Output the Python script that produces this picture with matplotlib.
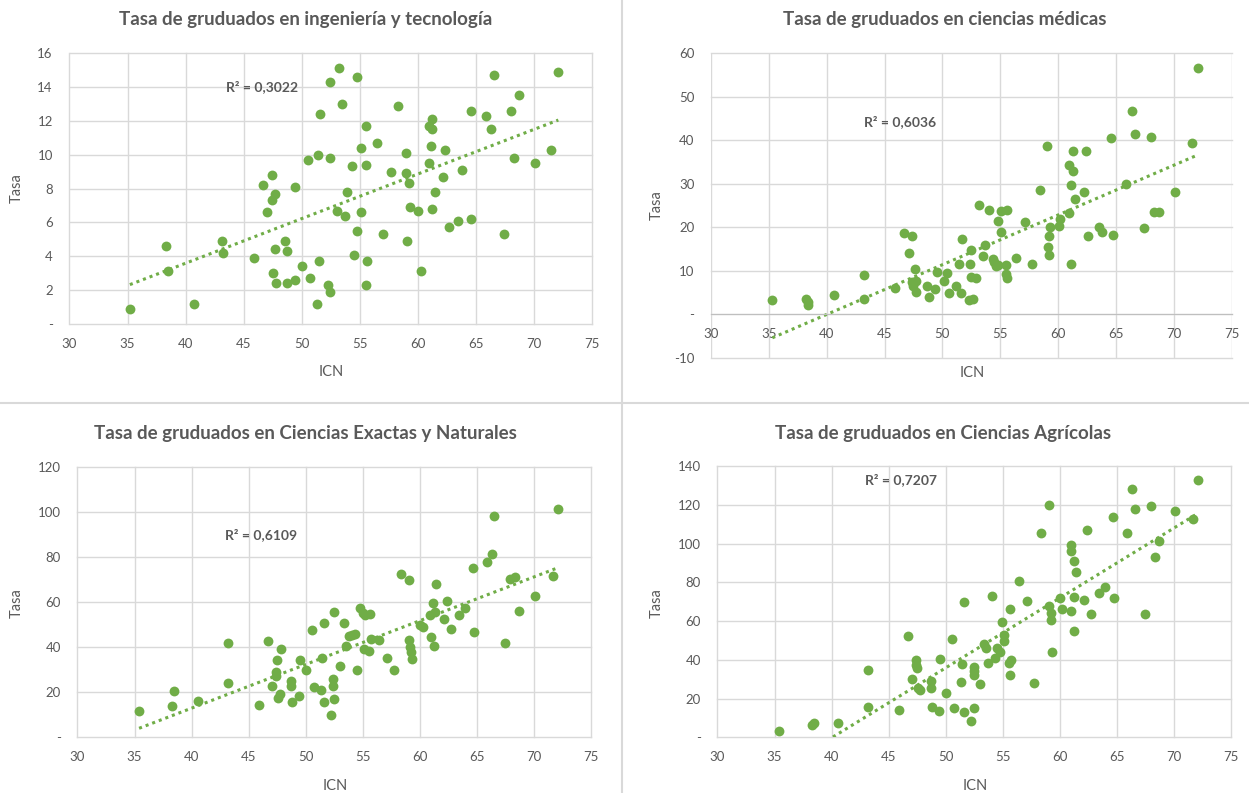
# Tasas de graduados frente al ICN: cuatro diagramas de dispersión con tendencia lineal

import numpy as np
import matplotlib.pyplot as plt
from matplotlib.lines import Line2D
from matplotlib.ticker import FuncFormatter

plt.rcParams['font.family'] = ['Lato', 'DejaVu Sans']

# 0. Datos
icn_ing = [35.2, 38.3, 38.5, 40.7, 43.1, 43.2, 45.9, 46.7, 47.0, 47.4,
           47.4, 47.7, 47.7, 47.5, 47.8, 48.6, 48.7, 48.7, 49.4, 49.4,
           50.0, 50.5, 50.7, 51.4, 51.3, 51.5, 51.6, 52.4, 52.4, 52.3,
           52.4, 53.0, 53.2, 53.5, 53.7, 53.9, 54.3, 54.5, 54.8, 54.8,
           55.1, 55.1, 55.5, 55.5, 55.6, 55.5, 56.5, 57.0, 57.7, 58.3,
           59.0, 59.0, 59.2, 59.3, 59.1, 60.0, 60.3, 61.0, 61.2, 61.2,
           61.1, 61.0, 61.2, 61.5, 62.2, 62.3, 62.7, 63.5, 63.8, 64.6,
           64.6, 65.9, 66.3, 66.6, 67.4, 68.0, 68.7, 68.3, 70.1, 71.5,
           72.1]
tasa_ing = [0.9, 4.6, 3.1, 1.2, 4.9, 4.2, 3.9, 8.2, 6.6, 8.8,
            7.3, 7.7, 4.4, 3.0, 2.4, 4.9, 4.3, 2.4, 8.1, 2.6,
            3.4, 9.7, 2.7, 10.0, 1.2, 3.7, 12.4, 14.3, 9.8, 2.3,
            1.9, 6.7, 15.1, 13.0, 6.4, 7.8, 9.3, 4.1, 14.6, 5.5,
            10.4, 6.6, 11.7, 9.4, 3.7, 2.3, 10.7, 5.3, 9.0, 12.9,
            10.1, 8.9, 8.3, 6.9, 4.9, 6.7, 3.1, 11.7, 12.1, 11.5,
            10.5, 9.5, 6.8, 7.8, 8.7, 10.3, 5.7, 6.1, 9.1, 12.6,
            6.2, 12.3, 11.5, 14.7, 5.3, 12.6, 13.5, 9.8, 9.5, 10.3,
            14.9]

icn_med = [35.3, 38.2, 38.4, 38.4, 40.6, 43.2, 43.2, 45.9, 46.7, 47.4,
           47.1, 47.6, 47.4, 47.7, 47.5, 47.7, 48.7, 48.8, 49.4, 49.5,
           50.1, 50.4, 50.6, 51.2, 51.4, 51.6, 51.7, 52.4, 52.5, 52.5,
           52.9, 52.3, 52.6, 53.2, 53.5, 53.7, 54.0, 54.4, 54.5, 54.6,
           54.8, 55.1, 55.1, 55.6, 54.8, 55.5, 55.5, 55.6, 56.4, 57.1,
           57.7, 58.4, 59.0, 59.1, 59.2, 59.2, 59.3, 60.1, 60.2, 60.9,
           60.9, 61.3, 61.3, 61.1, 61.5, 61.1, 62.2, 62.4, 62.6, 63.5,
           63.8, 64.6, 64.7, 65.9, 66.4, 66.6, 67.4, 68.0, 68.3, 68.7,
           70.1, 71.6, 72.1]
tasa_med = [3.2, 3.4, 2.8, 2.2, 4.5, 9.1, 3.5, 6.0, 18.7, 18.0,
            14.0, 10.4, 7.4, 7.7, 6.5, 5.1, 6.5, 3.9, 5.7, 9.7,
            7.6, 9.4, 4.8, 6.5, 11.5, 4.9, 17.2, 11.6, 14.7, 8.6,
            8.3, 3.3, 3.5, 25.2, 13.4, 15.9, 23.9, 12.7, 11.9, 11.0,
            21.4, 19.0, 23.7, 23.9, 11.4, 11.4, 9.3, 8.3, 12.9, 21.2,
            11.6, 28.6, 38.7, 15.4, 18.0, 13.7, 20.0, 20.3, 21.9, 23.3,
            34.2, 32.9, 37.5, 29.8, 26.4, 11.6, 28.2, 37.5, 18.0, 20.1,
            19.0, 40.6, 18.3, 30.0, 46.7, 41.4, 19.9, 40.8, 23.6, 23.6,
            28.2, 39.3, 56.6]

icn_exa = [35.4, 38.3, 38.5, 40.6, 43.2, 43.2, 45.9, 46.7, 47.8, 47.5,
           47.4, 47.4, 47.0, 47.7, 47.6, 48.7, 48.7, 48.8, 49.4, 49.5,
           50.0, 50.5, 50.7, 51.3, 51.4, 51.6, 51.6, 52.5, 52.4, 52.4,
           52.5, 52.2, 53.0, 53.3, 53.5, 53.8, 54.0, 54.3, 54.5, 54.7,
           55.0, 55.2, 55.6, 55.1, 55.5, 55.7, 56.4, 57.1, 57.7, 58.3,
           59.0, 59.0, 59.1, 59.2, 59.3, 60.0, 60.3, 61.1, 60.9, 61.3,
           61.0, 61.2, 61.4, 62.1, 62.4, 62.7, 63.4, 63.9, 64.6, 64.7,
           65.9, 66.3, 66.5, 67.4, 67.9, 68.3, 68.7, 70.1, 71.6, 72.1]
tasa_exa = [11.5, 14.1, 20.4, 16.1, 41.9, 24.0, 14.5, 42.6, 39.4, 34.2,
            29.0, 27.4, 22.8, 19.2, 17.5, 24.9, 22.9, 15.7, 18.2, 34.2,
            30.0, 47.8, 22.2, 21.2, 35.2, 50.9, 15.7, 55.5, 25.9, 22.6,
            16.9, 9.9, 31.7, 50.7, 40.7, 44.8, 45.6, 46.0, 30.0, 57.4,
            55.2, 54.4, 54.9, 39.1, 38.2, 43.8, 43.2, 35.4, 30.0, 72.6,
            69.7, 43.2, 40.1, 37.7, 34.6, 49.7, 48.8, 59.6, 54.1, 55.6,
            44.4, 40.5, 67.9, 52.7, 60.7, 48.2, 54.4, 57.3, 75.0, 46.6,
            78.0, 81.5, 98.2, 41.9, 70.3, 71.0, 56.1, 62.6, 71.5, 101.2]

icn_agr = [35.4, 38.3, 38.5, 40.6, 43.2, 43.2, 45.9, 46.7, 47.4, 47.4,
           47.5, 47.0, 47.6, 47.7, 48.7, 48.7, 48.8, 49.4, 49.5, 50.0,
           50.5, 50.7, 51.3, 51.4, 51.6, 51.6, 52.5, 52.5, 52.5, 52.5,
           52.2, 53.0, 53.3, 53.5, 53.7, 54.0, 54.3, 54.5, 54.7, 54.9,
           55.1, 55.1, 55.5, 55.7, 55.6, 55.6, 56.4, 57.1, 57.7, 58.3,
           59.0, 59.0, 59.2, 59.2, 59.3, 60.0, 60.2, 61.0, 61.0, 61.2,
           61.4, 61.2, 61.0, 61.2, 62.1, 62.4, 62.7, 63.4, 63.9, 64.6,
           64.7, 65.9, 66.3, 66.6, 67.4, 68.0, 68.3, 68.7, 70.1, 71.6,
           72.1]
tasa_agr = [3.1, 6.6, 7.3, 7.3, 34.9, 15.5, 14.2, 52.2, 39.9, 37.1,
            35.6, 30.2, 25.6, 24.4, 29.0, 25.2, 15.7, 13.5, 40.6, 23.1,
            50.8, 14.9, 28.7, 37.7, 69.6, 12.8, 36.3, 34.2, 32.3, 14.9,
            8.6, 27.3, 48.4, 46.3, 38.3, 73.1, 41.1, 46.1, 44.2, 59.4,
            53.0, 49.7, 38.3, 39.9, 32.1, 66.0, 80.5, 70.3, 28.0, 105.5,
            120.0, 67.7, 64.4, 60.4, 43.9, 71.7, 66.0, 99.0, 96.0, 91.0,
            85.5, 72.2, 65.3, 55.1, 70.8, 107.1, 63.4, 74.3, 77.4, 113.8,
            71.7, 105.5, 128.3, 118.0, 63.4, 119.3, 93.1, 101.4, 116.6, 112.4,
            132.6]

titulos = ['Tasa de gruduados en ingeniería y tecnología',
           'Tasa de gruduados en ciencias médicas',
           'Tasa de gruduados en Ciencias Exactas y Naturales',
           'Tasa de gruduados en Ciencias Agrícolas']
r2_textos = ['R² = 0,3022', 'R² = 0,6036', 'R² = 0,6109', 'R² = 0,7207']

verde = '#70AD47'
gris_texto = '#595959'
gris_rejilla = '#D9D9D9'

# 1. Figura y ejes colocados a mano
fig = plt.figure(figsize=(12.49, 7.93), dpi=100)
W, H = 1249, 793

def px_axes(x0, x1, y0, y1):
    return fig.add_axes([x0 / W, 1 - y1 / H, (x1 - x0) / W, (y1 - y0) / H])

paneles = [
    dict(ax=px_axes(69.5, 592, 53, 324), x=icn_ing, y=tasa_ing, ylim=(0, 16), paso=2,
         titulo=(306, 20), r2=(46.6, 14.0), tasa=(17, 188), icn=(331, 372)),
    dict(ax=px_axes(711, 1231.7, 53.3, 357.7), x=icn_med, y=tasa_med, ylim=(-10, 60), paso=10,
         titulo=(945, 20), r2=(46.3, 44.4), tasa=(657, 205), icn=(972, 373)),
    dict(ax=px_axes(77.4, 591.4, 467, 737.3), x=icn_exa, y=tasa_exa, ylim=(0, 120), paso=20,
         titulo=(305, 433), r2=(46.1, 90.2), tasa=(17, 603), icn=(335, 786)),
    dict(ax=px_axes(717.4, 1231.4, 466, 737.3), x=icn_agr, y=tasa_agr, ylim=(0, 140), paso=20,
         titulo=(943, 433), r2=(46.1, 133.0), tasa=(657, 603), icn=(975, 786)),
]

def etiqueta(v, pos):
    return '-' if abs(v) < 1e-9 else f'{v:.0f}'

# 2. Dibujar cada panel
for p, titulo, r2 in zip(paneles, titulos, r2_textos):
    ax = p['ax']
    x = np.array(p['x'])
    y = np.array(p['y'])

    ax.scatter(x, y, s=50, color=verde, linewidths=0, zorder=3)

    # línea de tendencia lineal (mínimos cuadrados)
    coef = np.polyfit(x, y, 1)
    xs = np.array([x.min(), x.max()])
    ax.plot(xs, np.polyval(coef, xs), color=verde, lw=2.2,
            linestyle=(0, (1, 1.3)), zorder=2)

    ax.set_xlim(30, 75)
    ax.set_ylim(*p['ylim'])
    ax.set_xticks(np.arange(30, 76, 5))
    ax.set_yticks(np.arange(p['ylim'][0], p['ylim'][1] + 1, p['paso']))
    ax.yaxis.set_major_formatter(FuncFormatter(etiqueta))

    ax.grid(True, color=gris_rejilla, lw=1)
    ax.set_axisbelow(True)
    for linea in ax.get_xgridlines() + ax.get_ygridlines():
        linea.set_clip_on(False)
    for s in ax.spines.values():
        s.set_visible(False)
    ax.tick_params(length=0, labelsize=9.5, labelcolor=gris_texto)
    ax.tick_params(axis='y', pad=12)
    ax.tick_params(axis='x', pad=10)

    # el eje horizontal cruza en cero
    if p['ylim'][0] < 0:
        ax.spines['bottom'].set_visible(True)
        ax.spines['bottom'].set_position(('data', 0))
        ax.spines['bottom'].set_color('#BFBFBF')

    ax.text(p['r2'][0], p['r2'][1], r2, ha='center', va='center',
            fontsize=10, fontweight='bold', color=gris_texto)

    fig.text(p['titulo'][0] / W, 1 - p['titulo'][1] / H, titulo, ha='center', va='center',
             fontsize=13.5, fontweight='bold', color=gris_texto)
    fig.text(p['tasa'][0] / W, 1 - p['tasa'][1] / H, 'Tasa', ha='center', va='center',
             rotation=90, fontsize=10.5, color=gris_texto)
    fig.text(p['icn'][0] / W, 1 - p['icn'][1] / H, 'ICN', ha='center', va='center',
             fontsize=10.5, color=gris_texto)

# 3. Separadores entre paneles
fig.add_artist(Line2D([622 / W, 622 / W], [0, 1], color=gris_rejilla, lw=1.5))
fig.add_artist(Line2D([0, 1], [1 - 403 / H, 1 - 403 / H], color=gris_rejilla, lw=1.5))

# 4. Guardar
plt.savefig('out.png', dpi=100)
